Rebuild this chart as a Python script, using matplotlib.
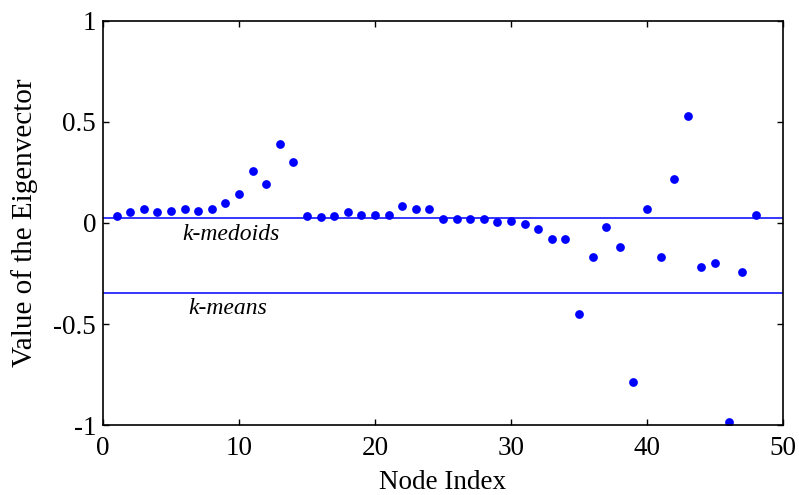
import matplotlib
matplotlib.use("Agg")
import matplotlib.pyplot as plt

plt.rcParams['font.family'] = ['Liberation Serif', 'DejaVu Serif']

node_index = list(range(1, 49))
eigvec = [0.036, 0.055, 0.070, 0.055, 0.061, 0.070, 0.061, 0.070, 0.100, 0.144,
          0.259, 0.194, 0.391, 0.300, 0.036, 0.028, 0.036, 0.055, 0.038, 0.038,
          0.038, 0.086, 0.070, 0.070, 0.020, 0.020, 0.020, 0.021, 0.004, 0.012,
          -0.004, -0.029, -0.079, -0.079, -0.448, -0.168, -0.022, -0.120, -0.788, 0.070,
          -0.168, 0.219, 0.530, -0.217, -0.200, -0.985, -0.242, 0.038]

kmedoids_level = 0.026
kmeans_level = -0.344

fig = plt.figure(figsize=(7.99, 4.95), dpi=100)
ax = fig.add_axes([0.129, 0.141, 0.851, 0.817])

ax.plot(node_index, eigvec, 'o', color=(0, 0, 1), markersize=6.3, markeredgewidth=0)
ax.axhline(kmedoids_level, color=(0, 0, 1), lw=1.1)
ax.axhline(kmeans_level, color=(0, 0, 1), lw=1.1)

ax.text(9.4, -0.055, 'k-medoids', style='italic', fontsize=17, ha='center', va='center')
ax.text(9.2, -0.425, 'k-means', style='italic', fontsize=17, ha='center', va='center')

ax.set_xlim(0, 50)
ax.set_ylim(-1, 1)
ax.set_xticks([0, 10, 20, 30, 40, 50])
ax.set_yticks([-1, -0.5, 0, 0.5, 1])
ax.set_yticklabels(['-1', '-0.5', '0', '0.5', '1'])
ax.tick_params(direction='in', top=True, right=True, length=4, width=1, labelsize=19.5)
ax.tick_params(axis='x', pad=8)
ax.tick_params(axis='y', pad=5)

for s in ax.spines.values():
    s.set_linewidth(1.2)

ax.set_xlabel('Node Index', fontsize=19.5, labelpad=6)
ax.set_ylabel('Value of the Eigenvector', fontsize=21, labelpad=11)

fig.savefig('out.png', dpi=100)
